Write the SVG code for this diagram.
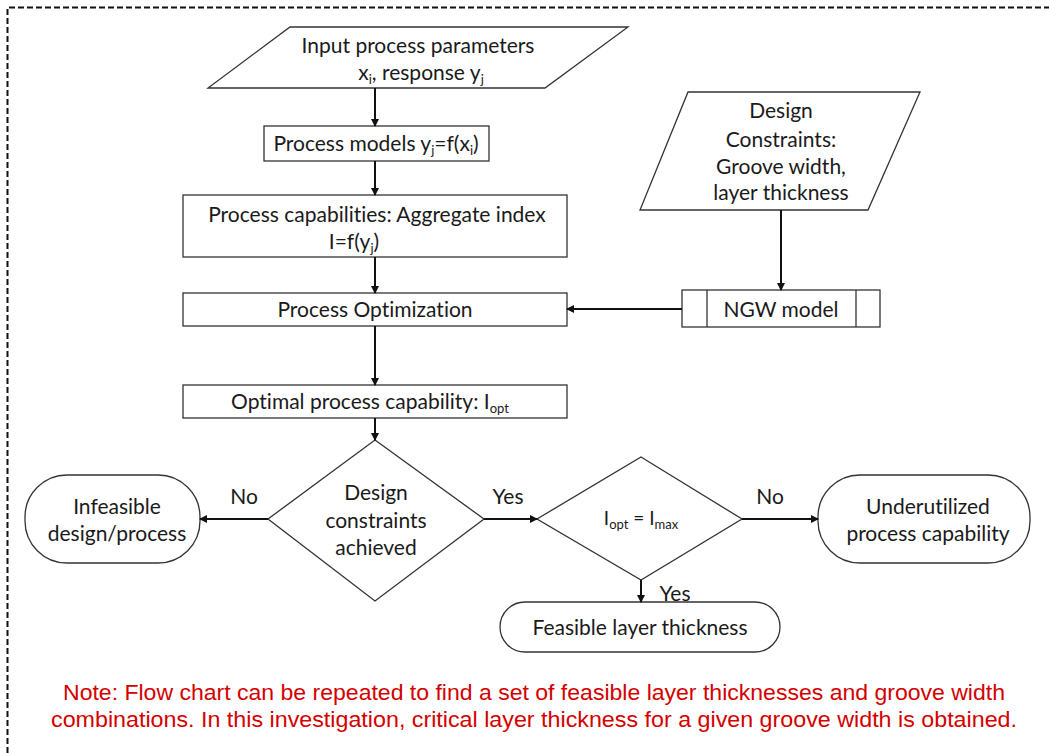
<svg xmlns="http://www.w3.org/2000/svg" width="1049" height="753" viewBox="0 0 1049 753">
<style>
.s{fill:#fff;stroke:#333;stroke-width:1.3}
.t{font-family:Lato,"Open Sans",sans-serif;font-size:21px;fill:#1a1a1a;text-anchor:middle;font-variant-ligatures:none}
.c{stroke:#111;stroke-width:2;fill:none;marker-end:url(#ah)}
.n{font-family:"Liberation Sans",Arial,sans-serif;font-size:22px;fill:#d40000;text-anchor:middle}
.sub{font-size:13px}
</style>
<defs>
<marker id="ah" markerWidth="8" markerHeight="8" refX="7" refY="4" orient="auto" markerUnits="userSpaceOnUse">
<path d="M0,0 L8,4 L0,8 Z" fill="#111"/>
</marker>
</defs>
<rect width="1049" height="753" fill="#fff"/>
<path d="M7.5,753 V7.5 H1049" fill="none" stroke="#111" stroke-width="2" stroke-dasharray="6,3"/>
<g id="input">
<polygon class="s" points="290,27 628,27 545,88 208,88"/>
<text class="t" x="418" y="53">Input process parameters</text>
<text class="t" x="421" y="80">x<tspan class="sub" dy="4">i</tspan><tspan dy="-4">, response y</tspan><tspan class="sub" dy="4">j</tspan></text>
</g>
<g id="models">
<rect class="s" x="264" y="126" width="225" height="35"/>
<text class="t" x="376" y="151">Process models y<tspan class="sub" dy="4">j</tspan><tspan dy="-4">=f(x</tspan><tspan class="sub" dy="4">i</tspan><tspan dy="-4">)</tspan></text>
</g>
<g id="capab">
<rect class="s" x="183" y="195" width="384" height="62"/>
<text class="t" x="377" y="222">Process capabilities: Aggregate index</text>
<text class="t" x="354" y="249" text-anchor="start">I=f(y<tspan class="sub" dy="4">j</tspan><tspan dy="-4">)</tspan></text>
</g>
<g id="optim">
<rect class="s" x="183" y="293" width="384" height="33"/>
<text class="t" x="375" y="317">Process Optimization</text>
</g>
<g id="optcap">
<rect class="s" x="183" y="385" width="384" height="33"/>
<text class="t" x="370" y="409">Optimal process capability: I<tspan class="sub" dy="4">opt</tspan></text>
</g>
<g id="d1">
<polygon class="s" points="375,440 484,519 375,601 268,519"/>
<text class="t" x="376" y="500">Design</text>
<text class="t" x="376" y="528">constraints</text>
<text class="t" x="376" y="555">achieved</text>
</g>
<g id="infeasible">
<rect class="s" x="25" y="475" width="175" height="88" rx="42" ry="42"/>
<text class="t" x="117" y="514">Infeasible</text>
<text class="t" x="117" y="541">design/process</text>
</g>
<g id="d2">
<polygon class="s" points="641,457 742,519 641,580 537,519"/>
<text class="t" x="641" y="525" style="font-size:19px">I<tspan class="sub" dy="4">opt</tspan><tspan dy="-4"> = I</tspan><tspan class="sub" dy="4">max</tspan></text>
</g>
<g id="under">
<rect class="s" x="818" y="475" width="212" height="88" rx="42" ry="42"/>
<text class="t" x="928" y="514">Underutilized</text>
<text class="t" x="928" y="541">process capability</text>
</g>
<g id="feasible">
<rect class="s" x="500" y="602" width="280" height="50" rx="25" ry="25"/>
<text class="t" x="640" y="635">Feasible layer thickness</text>
</g>
<g id="dc">
<polygon class="s" points="688,92 920,92 868,210 640,210"/>
<text class="t" x="781" y="118">Design</text>
<text class="t" x="781" y="147">Constraints:</text>
<text class="t" x="781" y="174">Groove width,</text>
<text class="t" x="781" y="200">layer thickness</text>
</g>
<g id="ngw">
<rect class="s" x="682" y="290" width="198" height="37"/>
<line class="s" x1="707" y1="290" x2="707" y2="327"/>
<line class="s" x1="856" y1="290" x2="856" y2="327"/>
<text class="t" x="781" y="317">NGW model</text>
</g>
<g id="connectors">
<line class="c" x1="375" y1="88" x2="375" y2="126"/>
<line class="c" x1="375" y1="161" x2="375" y2="195"/>
<line class="c" x1="375" y1="257" x2="375" y2="293"/>
<line class="c" x1="375" y1="326" x2="375" y2="385"/>
<line class="c" x1="375" y1="418" x2="375" y2="440"/>
<line class="c" x1="268" y1="519" x2="200" y2="519"/>
<line class="c" x1="484" y1="519" x2="537" y2="519"/>
<line class="c" x1="742" y1="519" x2="818" y2="519"/>
<line class="c" x1="641" y1="580" x2="641" y2="602"/>
<line class="c" x1="781" y1="210" x2="781" y2="290"/>
<line class="c" x1="682" y1="309" x2="567" y2="309"/>
<text class="t" x="244" y="504">No</text>
<text class="t" x="508" y="504">Yes</text>
<text class="t" x="770" y="504">No</text>
<text class="t" x="675" y="601">Yes</text>
</g>
<g id="note">
<text class="n" x="534" y="700" textLength="942" lengthAdjust="spacingAndGlyphs">Note: Flow chart can be repeated to find a set of feasible layer thicknesses and groove width</text>
<text class="n" x="534" y="727" textLength="966" lengthAdjust="spacingAndGlyphs">combinations. In this investigation, critical layer thickness for a given groove width is obtained.</text>
</g>
</svg>
